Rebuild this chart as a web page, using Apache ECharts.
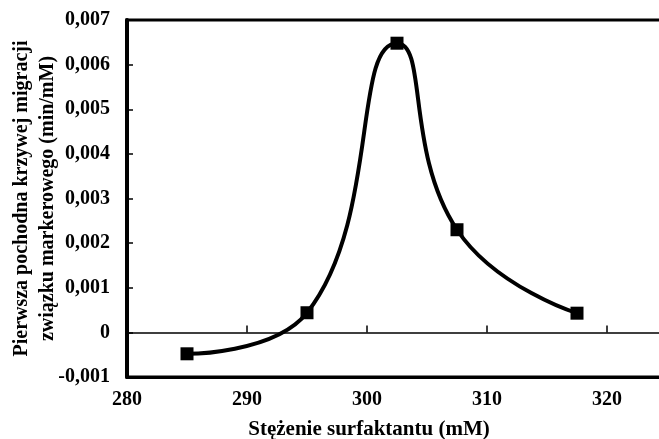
<!DOCTYPE html>
<html lang="pl">
<head>
<meta charset="utf-8">
<title>Pierwsza pochodna krzywej migracji</title>
<script src="https://cdn.jsdelivr.net/npm/echarts@6/dist/echarts.min.js"></script>
<style>
  html, body { margin: 0; padding: 0; background: #fff; }
  #main { width: 659px; height: 439px; }
</style>
</head>
<body>
<div id="main"></div>
<script>
// stezenie surfaktantu (mM)
var stezenie = [285, 295, 302.5, 307.5, 317.5];
// pierwsza pochodna (min/mM)
var pochodna = [-0.00048, 0.00044, 0.00648, 0.0023, 0.00043];
var xTicks = [280, 290, 300, 310, 320];
var yTicks = [-0.001, 0, 0.001, 0.002, 0.003, 0.004, 0.005, 0.006, 0.007];

var FONT = "'Liberation Serif', 'Times New Roman', serif";

var punkty = stezenie.map(function (x, i) { return [x, pochodna[i]]; });

function fmtY(v) {
  if (Math.abs(v) < 1e-9) return '0';
  return v.toFixed(3).replace('.', ',');
}

var chart = echarts.init(document.getElementById('main'));
chart.setOption({
  backgroundColor: '#fff',
  animation: false,
  title: {
    text: 'Stężenie surfaktantu (mM)',
    left: 364,
    top: 414,
    textAlign: 'center',
    textStyle: { fontFamily: FONT, fontWeight: 'bold', fontSize: 21, color: '#000' }
  },
  grid: {
    left: 127, top: 20, right: -68, bottom: 62,
    show: true, borderColor: '#000', borderWidth: 3,
    outerBoundsMode: 'none'
  },
  xAxis: [{
    type: 'value',
    min: xTicks[0], max: 330, interval: 10,
    position: 'bottom',
    splitLine: { show: false },
    axisLine: { onZero: false, lineStyle: { color: '#000', width: 3 } },
    axisTick: { show: false },
    axisLabel: {
      margin: 13, color: '#000',
      fontFamily: FONT, fontWeight: 'bold', fontSize: 20
    }
  }, {
    type: 'value',
    min: xTicks[0], max: 330, interval: 10,
    position: 'top',
    splitLine: { show: false },
    axisLine: { onZero: true, lineStyle: { color: '#000', width: 1.5 } },
    axisTick: { show: true, inside: false, length: 7, lineStyle: { color: '#000', width: 1.5 } },
    axisLabel: { show: false }
  }],
  yAxis: {
    type: 'value',
    min: yTicks[0], max: yTicks[yTicks.length - 1], interval: 0.001,
    splitLine: { show: false },
    axisLine: { onZero: false, lineStyle: { color: '#000', width: 4 } },
    axisTick: { inside: true, length: 6, lineStyle: { color: '#000', width: 1.5 } },
    axisLabel: {
      margin: 17, color: '#000', formatter: fmtY,
      fontFamily: FONT, fontWeight: 'bold', fontSize: 20
    },
    name: 'Pierwsza pochodna krzywej migracji\nzwiązku markerowego (min/mM)',
    nameLocation: 'middle',
    nameGap: 66,
    nameMoveOverlap: false,
    nameTextStyle: {
      fontFamily: FONT, fontWeight: 'bold', fontSize: 20, color: '#000', lineHeight: 26
    }
  },
  series: [{
    type: 'line',
    xAxisIndex: 0,
    data: punkty,
    smooth: 0.5,
    symbol: 'rect',
    symbolSize: 13,
    itemStyle: { color: '#000' },
    lineStyle: { color: '#000', width: 4 }
  }]
});
</script>
</body>
</html>
